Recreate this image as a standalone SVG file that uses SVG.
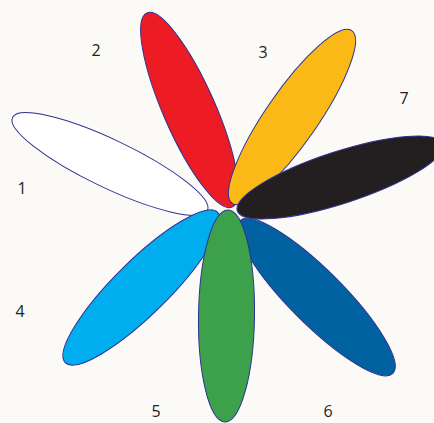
<svg xmlns="http://www.w3.org/2000/svg" width="434" height="423" viewBox="0 0 434 423">
<style>
.p{stroke:#2e3192;stroke-width:1}
.lbl{font-family:"Open Sans","Liberation Sans",sans-serif;font-size:16px;fill:#231f20;text-anchor:middle}
</style>
<rect width="434" height="423" fill="#fbfaf6"/>
<g id="petal-1"><ellipse class="p" fill="#ffffff" cx="0" cy="0" rx="108" ry="24" transform="translate(110,164) rotate(25.5)"/></g>
<g id="petal-2"><ellipse class="p" fill="#ed1c24" cx="0" cy="0" rx="106" ry="26" transform="translate(189.5,110) rotate(66.3)"/></g>
<g id="petal-3"><ellipse class="p" fill="#fbb917" cx="0" cy="0" rx="105" ry="26" transform="translate(292,117) rotate(-55.3)"/></g>
<g id="petal-7"><ellipse class="p" fill="#231f20" cx="0" cy="0" rx="108" ry="26" transform="translate(340,177.5) rotate(-18)"/></g>
<g id="petal-6"><ellipse class="p" fill="#0062a0" cx="0" cy="0" rx="108" ry="27" transform="translate(316.5,297) rotate(45)"/></g>
<g id="petal-4"><ellipse class="p" fill="#00aeef" cx="0" cy="0" rx="107" ry="27" transform="translate(141.5,287.5) rotate(-44.6)"/></g>
<g id="petal-5"><ellipse class="p" fill="#3da04a" cx="0" cy="0" rx="106" ry="28" transform="translate(226.5,316) rotate(90.8)"/></g>
<g id="labels">
<text class="lbl" x="96" y="56">2</text>
<text class="lbl" x="263" y="58">3</text>
<text class="lbl" x="404" y="104">7</text>
<text class="lbl" x="22" y="194">1</text>
<text class="lbl" x="20" y="317">4</text>
<text class="lbl" x="156" y="417">5</text>
<text class="lbl" x="328" y="417">6</text>
</g>
</svg>
